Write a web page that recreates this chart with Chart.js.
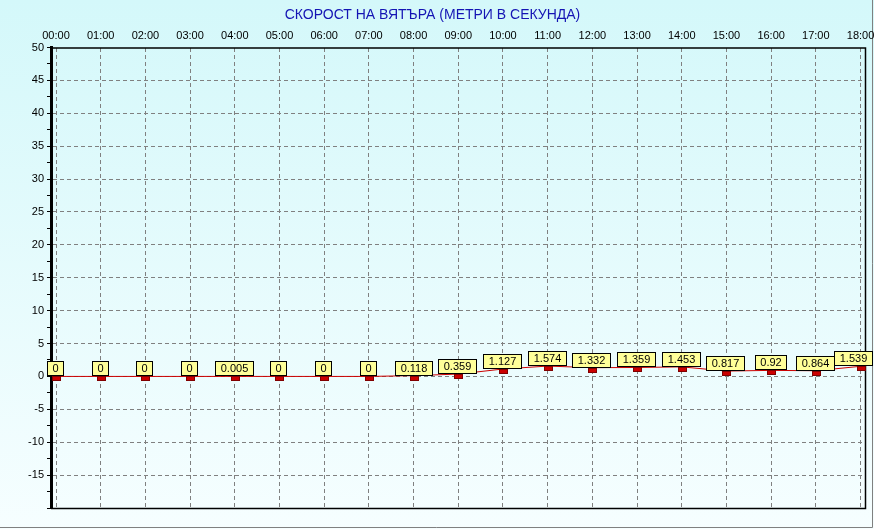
<!DOCTYPE html>
<html>
<head>
<meta charset="utf-8">
<script src="https://cdn.jsdelivr.net/npm/chart.js@4.4.0/dist/chart.umd.min.js"></script>
<style>
  html, body { margin: 0; padding: 0; background: #fff; }
  #wrap { width: 874px; height: 529px; }
</style>
</head>
<body>
<div id="wrap"><canvas id="chart-wind" width="874" height="529"></canvas></div>
<script>
// ---- Data ----
const hours = ['00:00','01:00','02:00','03:00','04:00','05:00','06:00','07:00','08:00','09:00',
               '10:00','11:00','12:00','13:00','14:00','15:00','16:00','17:00','18:00'];
const windSpeed = [0, 0, 0, 0, 0.005, 0, 0, 0, 0.118, 0.359,
                   1.127, 1.574, 1.332, 1.359, 1.453, 0.817, 0.92, 0.864, 1.539];
const yMin = -20, yMax = 50;

Chart.defaults.font.family = "Arial, 'Liberation Sans', sans-serif";
Chart.defaults.font.size = 11;
Chart.defaults.color = '#000';

// ---- Plugins ----
const background = {
  id: 'background',
  beforeDraw(chart) {
    const { ctx, width, height } = chart;
    ctx.save();
    const g = ctx.createLinearGradient(0, 0, 0, height);
    g.addColorStop(0, '#D4F8FA');
    g.addColorStop(1, '#F6FEFF');
    ctx.fillStyle = g;
    ctx.fillRect(0, 0, width, height);
    // outer grey frame (right + bottom)
    ctx.strokeStyle = '#808080';
    ctx.lineWidth = 1;
    ctx.beginPath();
    ctx.moveTo(872.5, 0); ctx.lineTo(872.5, 527.5); ctx.lineTo(0, 527.5);
    ctx.stroke();
    ctx.restore();
  }
};

const frame = {
  id: 'frame',
  beforeDatasetsDraw(chart) {
    const { ctx, chartArea: a } = chart;
    ctx.save();
    ctx.strokeStyle = '#000';
    ctx.lineWidth = 1.5;
    ctx.beginPath();
    ctx.moveTo(a.left, a.top + 0.5); ctx.lineTo(a.right + 0.5, a.top + 0.5);
    ctx.lineTo(a.right + 0.5, a.bottom + 0.5); ctx.lineTo(a.left, a.bottom + 0.5);
    ctx.stroke();
    ctx.restore();
  }
};

const valueBoxes = {
  id: 'valueBoxes',
  afterDatasetsDraw(chart) {
    const { ctx } = chart;
    const meta = chart.getDatasetMeta(0);
    ctx.save();
    ctx.font = "11px Arial, 'Liberation Sans', sans-serif";
    ctx.textAlign = 'center';
    ctx.textBaseline = 'middle';
    meta.data.forEach((pt, i) => {
      const x = Math.round(pt.x), y = Math.round(pt.y);
      // marker
      ctx.fillStyle = '#CC0000';
      ctx.fillRect(x - 4, y, 9, 5);
      ctx.strokeStyle = '#800000';
      ctx.lineWidth = 1;
      ctx.strokeRect(x - 4 + 0.5, y + 0.5, 8, 4);
      // label box
      const txt = String(windSpeed[i]);
      const w = Math.round(ctx.measureText(txt).width) + 11;
      let bx = x - Math.round(w / 2);
      if (bx + w > chart.width - 1) bx = chart.width - 1 - w;
      const by = y - 15;
      ctx.fillStyle = '#FFFF99';
      ctx.fillRect(bx, by, w, 15);
      ctx.strokeStyle = '#000';
      ctx.strokeRect(bx + 0.5, by + 0.5, w - 1, 14);
      ctx.fillStyle = '#000';
      ctx.fillText(txt, bx + w / 2, by + 8);
    });
    ctx.restore();
  }
};

// ---- Chart ----
new Chart(document.getElementById('chart-wind'), {
  type: 'line',
  data: {
    datasets: [{
      label: 'Скорост на вятъра',
      data: windSpeed.map((v, i) => ({ x: i, y: v })),
      borderColor: '#CC0000',
      borderWidth: 1,
      pointRadius: 0,
      tension: 0,
    }]
  },
  options: {
    responsive: false,
    animation: false,
    layout: { padding: { left: 0, right: 9, top: 0, bottom: 21 } },
    plugins: {
      legend: { display: false },
      tooltip: { enabled: false },
      title: {
        display: true,
        text: 'СКОРОСТ НА ВЯТЪРА (МЕТРИ В СЕКУНДА)',
        color: '#1414B4',
        font: { size: 14, weight: 'normal', lineHeight: '16px' },
        padding: { top: 7, bottom: 0 }
      }
    },
    scales: {
      x: {
        type: 'linear',
        position: 'top',
        min: -0.112,
        max: 18.1,
        afterBuildTicks: s => { s.ticks = hours.map((_, i) => ({ value: i })); },
        afterFit: s => { s.height = 24.5; s.paddingLeft = 0; s.paddingRight = 0; },
        ticks: {
          callback: v => hours[v],
          maxRotation: 0,
          autoSkip: false,
          padding: 5,
          color: '#000'
        },
        grid: { color: '#808080', drawTicks: false },
        border: { display: false, dash: [4, 3] }
      },
      y: {
        min: yMin,
        max: yMax,
        afterBuildTicks: s => {
          const t = [];
          for (let v = yMin; v <= yMax; v += 2.5) t.push({ value: v });
          s.ticks = t;
        },
        afterFit: s => { s.width = 51; s.paddingTop = 0; s.paddingBottom = 0; },
        ticks: {
          callback: v => (v % 5 === 0 && v > yMin) ? String(v) : '',
          autoSkip: false,
          padding: 3,
          color: '#000'
        },
        grid: {
          color: c => (c.tick && c.tick.value % 5 === 0 && c.tick.value > yMin && c.tick.value < yMax) ? '#808080' : 'rgba(0,0,0,0)',
          tickColor: '#000',
          tickLength: 4
        },
        border: { display: true, color: '#000', width: 3, dash: [4, 3] }
      }
    }
  },
  plugins: [background, frame, valueBoxes]
});
</script>
</body>
</html>
